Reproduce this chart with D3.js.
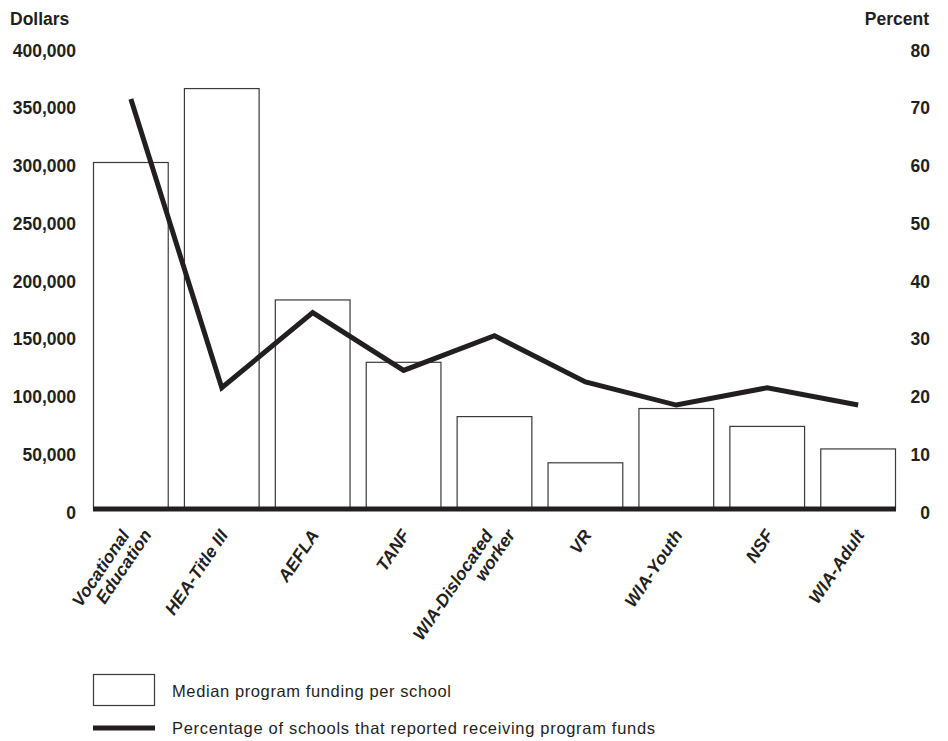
<!DOCTYPE html>
<html>
<head>
<meta charset="utf-8">
<script src="https://cdn.jsdelivr.net/npm/d3@7"></script>
<style>
  body { margin: 0; background: #fff; }
  text { fill: #231f20; }
</style>
</head>
<body>
<svg id="chart" width="948" height="741"></svg>
<script>
const programs = [
  'Vocational Education', 'HEA-Title III', 'AEFLA', 'TANF',
  'WIA-Dislocated worker', 'VR', 'WIA-Youth', 'NSF', 'WIA-Adult'
]
const labelLines = [
  ['Vocational', 'Education'], ['HEA-Title III'], ['AEFLA'], ['TANF'],
  ['WIA-Dislocated', 'worker'], ['VR'], ['WIA-Youth'], ['NSF'], ['WIA-Adult']
]
const medianFunding = [300000, 364000, 181000, 127000, 80000, 40000, 87000, 71500, 52000]
const percentReceiving = [71, 21, 34, 24, 30, 22, 18, 21, 18]
const dollarTicks = [0, 50000, 100000, 150000, 200000, 250000, 300000, 350000, 400000]
const percentTicks = [0, 10, 20, 30, 40, 50, 60, 70, 80]
const legendLabels = [
  'Median program funding per school',
  'Percentage of schools that reported receiving program funds'
]

const ink = '#231f20'
const boldFont = "'Liberation Sans', Arial, Helvetica, sans-serif"

const svg = d3.select('#chart')

const x = d3.scaleBand()
  .domain(programs)
  .range([93, 896])
  .paddingInner(0.167)
  .paddingOuter(0)

const yDollars = d3.scaleLinear().domain([0, 400000]).range([509, 47])
const yPercent = d3.scaleLinear().domain([0, 80]).range([509, 47])

/**
 * Styles the tick labels of a value axis.
 *
 * @param {*} g The d3 Selection of the axis g element
 */
function styleTicks (g) {
  g.select('.domain').remove()
  g.attr('font-family', boldFont)
    .attr('font-size', 17.5)
    .attr('font-weight', 'bold')
  g.selectAll('text')
    .attr('fill', ink)
    .attr('dy', '0.52em')
}

/**
 * Draws both value axes and their titles.
 */
function drawValueAxes () {
  svg.append('g')
    .attr('class', 'y-axis')
    .attr('transform', 'translate(76, 0)')
    .call(d3.axisLeft(yDollars).tickValues(dollarTicks).tickSize(0).tickPadding(0).tickFormat(d3.format(',')))
    .call(styleTicks)

  svg.append('g')
    .attr('class', 'y-axis-right')
    .attr('transform', 'translate(930, 0)')
    .call(d3.axisRight(yPercent).tickValues(percentTicks).tickSize(0).tickPadding(0))
    .call(styleTicks)
    .selectAll('text')
    .attr('x', 0)
    .attr('text-anchor', 'end')

  svg.append('text')
    .text('Dollars')
    .attr('x', 10)
    .attr('y', 25)
    .attr('font-family', boldFont)
    .attr('font-weight', 'bold')
    .attr('font-size', 17.5)

  svg.append('text')
    .text('Percent')
    .attr('x', 929)
    .attr('y', 25)
    .attr('text-anchor', 'end')
    .attr('font-family', boldFont)
    .attr('font-weight', 'bold')
    .attr('font-size', 17.5)
}

/**
 * Draws the funding bars, the baseline and the percentage line.
 */
function drawMarks () {
  svg.append('g')
    .selectAll('rect')
    .data(programs)
    .join('rect')
    .attr('x', d => x(d) + 0.5)
    .attr('y', (d, i) => yDollars(medianFunding[i]))
    .attr('width', x.bandwidth() - 1)
    .attr('height', (d, i) => yDollars(0) - yDollars(medianFunding[i]))
    .attr('fill', '#fff')
    .attr('stroke', '#3a3a3a')
    .attr('stroke-width', 1.2)

  svg.append('line')
    .attr('x1', x.range()[0])
    .attr('x2', x.range()[1])
    .attr('y1', yDollars(0))
    .attr('y2', yDollars(0))
    .attr('stroke', ink)
    .attr('stroke-width', 5)

  const line = d3.line()
    .x(d => x(d.program) + x.bandwidth() / 2)
    .y(d => yPercent(d.value))

  svg.append('path')
    .datum(programs.map((p, i) => ({ program: p, value: percentReceiving[i] })))
    .attr('d', line)
    .attr('fill', 'none')
    .attr('stroke', ink)
    .attr('stroke-width', 5)
}

/**
 * Draws the rotated category labels under the bars.
 */
function drawCategoryLabels () {
  const labels = svg.append('g')
    .attr('class', 'x-axis-text')
    .selectAll('text')
    .data(programs)
    .join('text')
    .attr('transform', d => 'translate(' + (x(d) + x.bandwidth() / 2 + 7) + ', 535) rotate(-56)')
    .attr('text-anchor', 'end')
    .attr('font-family', boldFont)
    .attr('font-weight', 'bold')
    .attr('font-style', 'italic')
    .attr('font-size', 17.5)

  labels.each(function (d, i) {
    const lines = labelLines[i]
    lines.forEach((t, k) => {
      const shift = lines.length > 1 ? k - 0.35 : 0
      d3.select(this).append('tspan')
        .attr('x', shift * 12.6)
        .attr('y', shift * 18)
        .text(t)
    })
  })
}

/**
 * Draws the legend below the chart.
 */
function drawLegend () {
  const legend = svg.append('g').attr('class', 'legend')

  legend.append('rect')
    .attr('x', 93.5)
    .attr('y', 674.5)
    .attr('width', 61)
    .attr('height', 31)
    .attr('fill', '#fff')
    .attr('stroke', '#3a3a3a')
    .attr('stroke-width', 1.2)

  legend.append('line')
    .attr('x1', 93)
    .attr('x2', 155)
    .attr('y1', 728)
    .attr('y2', 728)
    .attr('stroke', ink)
    .attr('stroke-width', 5)

  legend.selectAll('text')
    .data(legendLabels)
    .join('text')
    .text(d => d)
    .attr('x', 172)
    .attr('y', (d, i) => i === 0 ? 697 : 734)
    .attr('font-family', boldFont)
    .attr('font-size', 16.5)
    .attr('textLength', (d, i) => i === 0 ? 279 : 483)
    .attr('lengthAdjust', 'spacing')
}

drawMarks()
drawValueAxes()
drawCategoryLabels()
drawLegend()
</script>
</body>
</html>
